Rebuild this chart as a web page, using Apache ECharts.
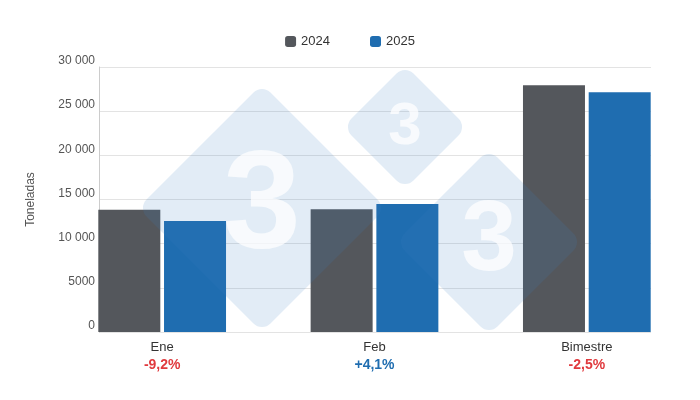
<!DOCTYPE html><html><head><meta charset="utf-8"><script src="https://cdn.jsdelivr.net/npm/echarts@6/dist/echarts.min.js"></script></head><body style="margin:0"><div id="c" style="width:700px;height:400px"></div><script>
const categories=['Ene','Feb','Bimestre'];
const changes=['-9,2%','+4,1%','-2,5%'];
const changeColors=['#e03a3e','#1f6db0','#e03a3e'];
const v2024=[13830,13900,27940];
const v2025=[12560,14480,27150];
const yTicks=[0,5000,10000,15000,20000,25000,30000];
const ch=echarts.init(document.getElementById('c'));
function dia(cx,cy,h,fs){const s=h*Math.SQRT2;return [
{type:'rect',z:100,position:[cx,cy],rotation:Math.PI/4,shape:{x:-s/2,y:-s/2,width:s,height:s,r:12},style:{fill:'rgba(60,130,195,0.15)'}},
{type:'text',z:101,position:[cx,cy],style:{text:'3',x:0,y:0,align:'center',verticalAlign:'middle',font:'bold '+fs+'px Arial',fill:'rgba(255,255,255,0.75)'}}];}
ch.setOption({animation:false,
legend:{top:30,left:'center',itemWidth:11,itemHeight:11,itemGap:40,icon:'roundRect',textStyle:{fontFamily:'Arial',fontSize:13,color:'#333'},data:['2024','2025']},
graphic:[...dia(262,208,124,140),...dia(405,127,62,60),...dia(489,242,93,100)],
grid:[{left:99,right:49,top:67,bottom:68},{left:56,right:7,top:67,bottom:68}],
xAxis:[{gridIndex:0,type:'category',data:categories,show:false},
{gridIndex:1,type:'category',data:categories,axisTick:{show:false},axisLine:{show:false},
axisLabel:{margin:6,fontFamily:'Arial',formatter:(v,i)=>v+'\n{p'+i+'|'+changes[i]+'}',color:'#333',fontSize:13,lineHeight:18,
rich:{p0:{color:changeColors[0],fontWeight:'bold',fontSize:14},p1:{color:changeColors[1],fontWeight:'bold',fontSize:14},p2:{color:changeColors[2],fontWeight:'bold',fontSize:14}}}}],
yAxis:[{gridIndex:0,type:'value',min:0,max:30000,interval:5000,name:'Toneladas',nameLocation:'middle',nameGap:62,nameTextStyle:{fontFamily:'Arial',fontSize:12,color:'#555'},
axisLabel:{fontFamily:'Arial',fontSize:12,color:'#555',verticalAlign:'bottom',margin:4,formatter:v=>v>=10000?String(v).replace(/(\d+)(\d{3})$/,'$1 $2'):String(v)},
splitLine:{lineStyle:{color:'#e3e3e3'}},axisLine:{show:true,lineStyle:{color:'#ccc'}},axisTick:{show:false}},
{gridIndex:1,type:'value',min:0,max:30000,interval:5000,show:false,splitLine:{show:false}}],
series:[{name:'2024',type:'bar',xAxisIndex:1,yAxisIndex:1,data:v2024,barWidth:62,barGap:'6%',itemStyle:{color:'#54575c'}},
{name:'2025',type:'bar',xAxisIndex:1,yAxisIndex:1,data:v2025,barWidth:62,itemStyle:{color:'#1f6db0'}}]});
</script></body></html>
